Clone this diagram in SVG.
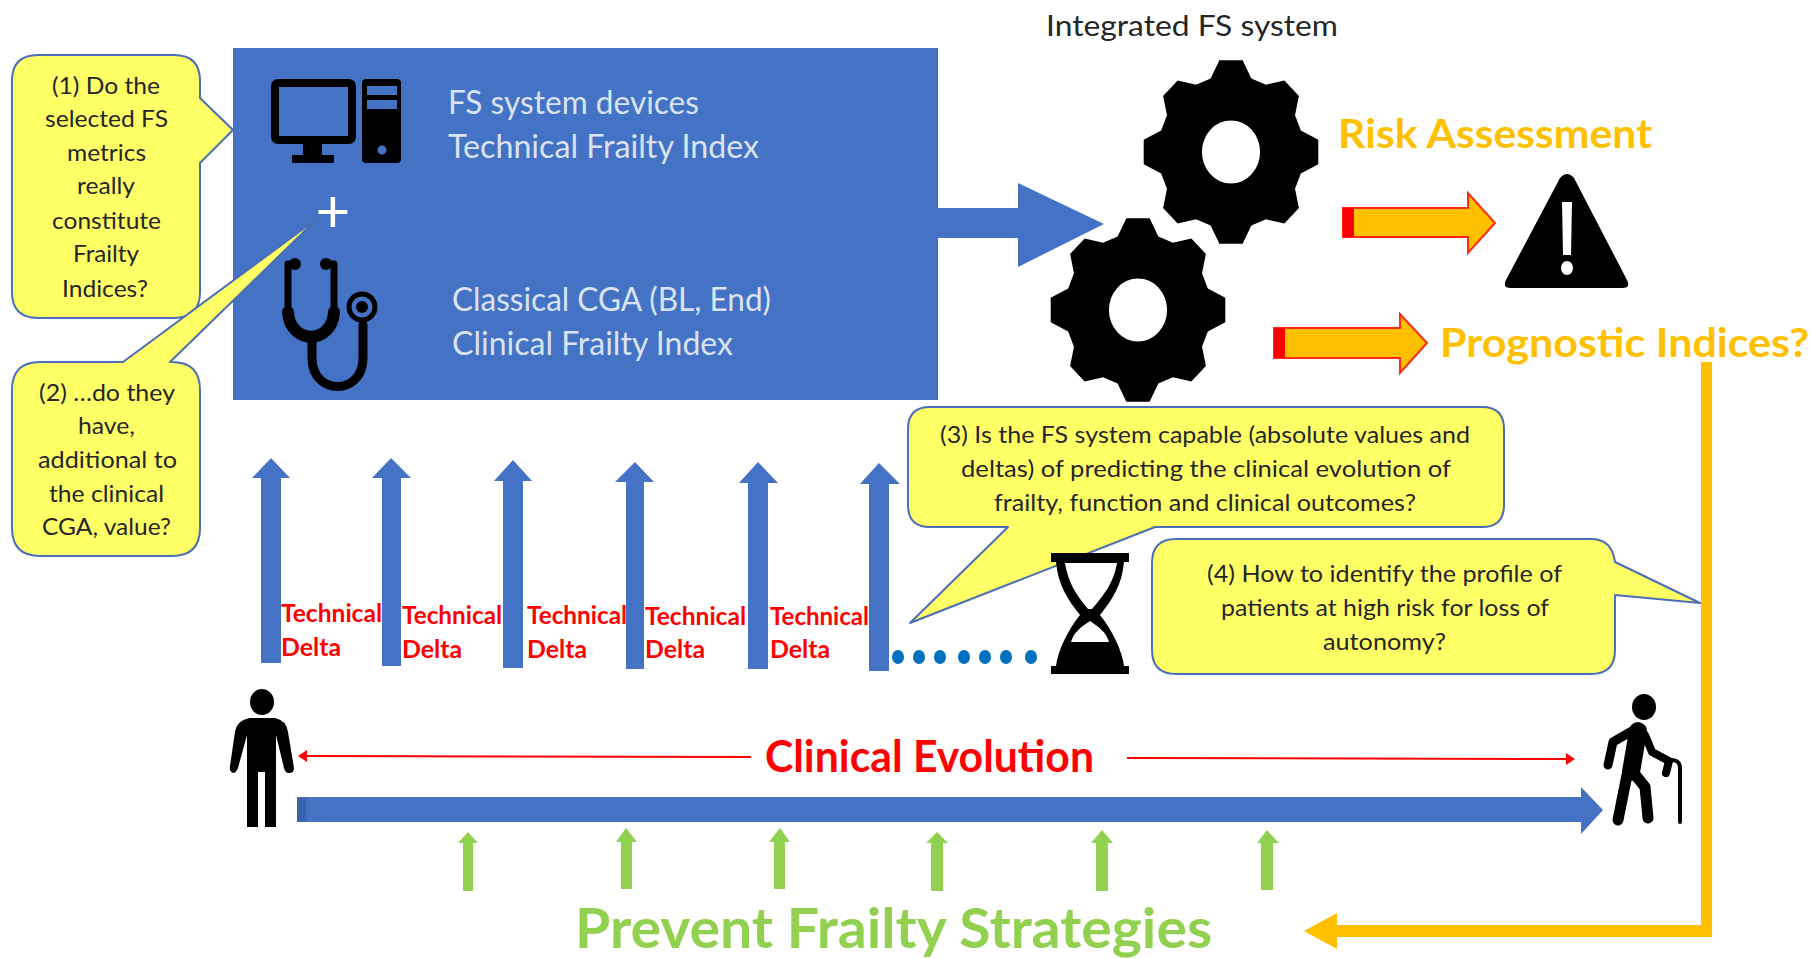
<svg xmlns="http://www.w3.org/2000/svg" xmlns:xlink="http://www.w3.org/1999/xlink" width="1812" height="959" viewBox="0 0 1812 959">
<style>
text{font-family:Lato,"Liberation Sans",sans-serif}
.q{font-size:24px;fill:#262626}
.b{font-size:32px;fill:#dae3f3}
.d{font-size:25px;fill:#ff0000;font-weight:700}
.call{fill:#ffff66;stroke:#4a6fb5;stroke-width:2;stroke-linejoin:round}
.blue{fill:#4472c4}
.grn{fill:#92d050}
.org{fill:#ffc000;stroke:#ff2a10;stroke-width:2}
.red{fill:none;stroke:#ff0000;stroke-width:2}
.k{fill:none;stroke:#000;stroke-linecap:round;stroke-linejoin:round}
</style>
<defs>
<path id="gear" fill-rule="evenodd" d="M-12-90H12L21-72 36-66 55-70 70-55 66-36 72-21 90-12V12L72 21 66 36 70 55 55 70 36 66 21 72 12 90H-12L-21 72-36 66-55 70-70 55-66 36-72 21-90 12V-12L-72-21-66-36-70-55-55-70-36-66-21-72ZM-30 0A30 31 0 0 0 30 0A30 31 0 0 0-30 0Z"/>
</defs>
<rect width="1812" height="959" fill="#fff"/>

<g id="fs-box">
<rect x="233" y="48" width="705" height="352" class="blue"/>
<text class="b" x="448" y="114" textLength="251" lengthAdjust="spacingAndGlyphs">FS system devices</text>
<text class="b" x="448" y="158" textLength="311" lengthAdjust="spacingAndGlyphs">Technical Frailty Index</text>
<text class="b" x="452" y="311" textLength="319" lengthAdjust="spacingAndGlyphs">Classical CGA (BL, End)</text>
<text class="b" x="452" y="355" textLength="281" lengthAdjust="spacingAndGlyphs">Clinical Frailty Index</text>
</g>

<g id="computer-icon">
<rect x="275" y="83" width="77" height="57" rx="3" fill="none" stroke="#000" stroke-width="8"/>
<rect x="303" y="142" width="19" height="15"/>
<rect x="292" y="155" width="42" height="8" rx="1"/>
<path fill-rule="evenodd" d="M366 79H397Q401 79 401 83V159Q401 163 397 163H366Q362 163 362 159V83Q362 79 366 79ZM367 86V95H397V86ZM367 100V109H397V100ZM382 145.500A4.500 4.500 0 1 0 382 154.500A4.500 4.500 0 1 0 382 145.500Z"/>
</g>

<g id="stethoscope-icon">
<path class="k" stroke-width="7" d="M295 264H288V312M326 264H334V312"/>
<circle cx="295" cy="264" r="6"/><circle cx="326" cy="264" r="6"/>
<path class="k" stroke-width="12" d="M288 312C290 345 332 345 334 312"/>
<path class="k" stroke-width="9" d="M312 340V358C312 396 363 396 363 358V325"/>
<circle cx="362" cy="307" r="13" fill="none" stroke="#000" stroke-width="5"/>
<circle cx="362" cy="307" r="6"/>
</g>

<g id="callout-1">
<path class="call" d="M38 55H174Q200 55 200 81V98L233 130 200 163V292Q200 318 174 318H38Q12 318 12 292V81Q12 55 38 55Z"/>
<text class="q" x="52" y="94" textLength="108" lengthAdjust="spacingAndGlyphs">(1) Do the</text>
<text class="q" x="45" y="127" textLength="123" lengthAdjust="spacingAndGlyphs">selected FS</text>
<text class="q" x="67" y="161" textLength="79" lengthAdjust="spacingAndGlyphs">metrics</text>
<text class="q" x="77" y="194" textLength="58" lengthAdjust="spacingAndGlyphs">really</text>
<text class="q" x="52" y="229" textLength="109" lengthAdjust="spacingAndGlyphs">constitute</text>
<text class="q" x="73" y="262" textLength="66" lengthAdjust="spacingAndGlyphs">Frailty</text>
<text class="q" x="62" y="297" textLength="86" lengthAdjust="spacingAndGlyphs">Indices?</text>
</g>

<g id="callout-2">
<path class="call" d="M40 362H123L318 218 170 362H172Q200 362 200 390V528Q200 556 172 556H40Q12 556 12 528V390Q12 362 40 362Z"/>
<text class="q" x="39" y="401" textLength="136" lengthAdjust="spacingAndGlyphs">(2) …do they</text>
<text class="q" x="78" y="434" textLength="57" lengthAdjust="spacingAndGlyphs">have,</text>
<text class="q" x="38" y="468" textLength="139" lengthAdjust="spacingAndGlyphs">additional to</text>
<text class="q" x="49" y="502" textLength="115" lengthAdjust="spacingAndGlyphs">the clinical</text>
<text class="q" x="42" y="535" textLength="129" lengthAdjust="spacingAndGlyphs">CGA, value?</text>
</g>

<g id="plus"><text x="333" y="232" text-anchor="middle" font-size="60" fill="#fff">+</text></g>

<g id="integrated-fs-system">
<text x="1046" y="36" font-size="28" fill="#262626" textLength="292" lengthAdjust="spacingAndGlyphs">Integrated FS system</text>
<use xlink:href="#gear" href="#gear" transform="translate(1231 152) scale(.97 1.02)"/>
<use xlink:href="#gear" href="#gear" transform="translate(1138 310) scale(.97 1.02)"/>
</g>

<g id="risk-assessment"><text x="1338" y="148" font-size="40" font-weight="700" fill="#ffc000" textLength="314" lengthAdjust="spacingAndGlyphs">Risk Assessment</text></g>
<g id="prognostic-indices"><text x="1440" y="357" font-size="40" font-weight="700" fill="#ffc000" textLength="369" lengthAdjust="spacingAndGlyphs">Prognostic Indices?</text></g>

<g id="warning-icon">
<path fill-rule="evenodd" d="M1560 178Q1567 170 1574 178L1627 280Q1631 288 1622 288H1511Q1502 288 1506 280ZM1562 202L1563 255H1571L1572 202ZM1567 261A6 7 0 1 0 1567 275A6 7 0 1 0 1567 261Z"/>
</g>

<g id="callout-3">
<path class="call" d="M930 407H1482Q1504 407 1504 429V505Q1504 527 1482 527H1155L910 623 1008 527H930Q908 527 908 505V429Q908 407 930 407Z"/>
<text class="q" x="940" y="443" textLength="530" lengthAdjust="spacingAndGlyphs">(3) Is the FS system capable (absolute values and</text>
<text class="q" x="961" y="477" textLength="490" lengthAdjust="spacingAndGlyphs">deltas) of predicting the clinical evolution of</text>
<text class="q" x="994" y="511" textLength="422" lengthAdjust="spacingAndGlyphs">frailty, function and clinical outcomes?</text>
</g>

<g id="hourglass-icon">
<path d="M1051 553H1129V562H1124C1122 585 1112 600 1100 615C1112 630 1122 650 1124 666H1129V674H1051V666H1056C1058 650 1068 630 1080 615C1068 600 1058 585 1056 562H1051Z"/>
<path fill="#fff" d="M1065 563H1117C1114 582 1104 595 1092 609H1088C1076 595 1068 582 1065 563Z"/>
<path fill="#fff" d="M1090 621C1080 628 1074 632 1071 642H1109C1106 632 1100 628 1090 621Z"/>
</g>

<g id="callout-4">
<path class="call" d="M1176 539H1591Q1612 539 1615 562L1700 603 1615 595V650Q1615 674 1591 674H1176Q1152 674 1152 650V563Q1152 539 1176 539Z"/>
<text class="q" x="1207" y="582" textLength="355" lengthAdjust="spacingAndGlyphs">(4) How to identify the profile of</text>
<text class="q" x="1221" y="616" textLength="328" lengthAdjust="spacingAndGlyphs">patients at high risk for loss of</text>
<text class="q" x="1323" y="650" textLength="123" lengthAdjust="spacingAndGlyphs">autonomy?</text>
</g>

<g id="delta-labels">
<text class="d" x="281" y="622" textLength="101" lengthAdjust="spacingAndGlyphs">Technical</text><text class="d" x="281" y="656" textLength="60" lengthAdjust="spacingAndGlyphs">Delta</text>
<text class="d" x="402" y="624" textLength="100" lengthAdjust="spacingAndGlyphs">Technical</text><text class="d" x="402" y="658" textLength="60" lengthAdjust="spacingAndGlyphs">Delta</text>
<text class="d" x="527" y="624" textLength="100" lengthAdjust="spacingAndGlyphs">Technical</text><text class="d" x="527" y="658" textLength="60" lengthAdjust="spacingAndGlyphs">Delta</text>
<text class="d" x="645" y="625" textLength="101" lengthAdjust="spacingAndGlyphs">Technical</text><text class="d" x="645" y="658" textLength="60" lengthAdjust="spacingAndGlyphs">Delta</text>
<text class="d" x="770" y="625" textLength="99" lengthAdjust="spacingAndGlyphs">Technical</text><text class="d" x="770" y="658" textLength="60" lengthAdjust="spacingAndGlyphs">Delta</text>
</g>

<g id="dots" fill="#0070c0">
<ellipse cx="898" cy="657" rx="6" ry="7"/><ellipse cx="919" cy="657" rx="6" ry="7"/><ellipse cx="940" cy="657" rx="6" ry="7"/><ellipse cx="964" cy="657" rx="6" ry="7"/><ellipse cx="985" cy="657" rx="6" ry="7"/><ellipse cx="1006" cy="657" rx="6" ry="7"/><ellipse cx="1031" cy="657" rx="6" ry="7"/>
</g>

<g id="person-young">
<ellipse cx="262" cy="702" rx="12" ry="13"/>
<path d="M250 718H275Q286 720 288 732L294 768Q294 773 289 773Q285 773 284 768L276 735V827H265V772H258V827H247V735L238 768Q236 773 233 773Q229 771 230 766L235 732Q237 720 250 718Z"/>
</g>

<g id="person-old">
<ellipse cx="1644" cy="707" rx="12" ry="13"/>
<path class="k" stroke-width="9" d="M1632 731L1613 742 1608 765"/>
<path class="k" stroke-width="18" d="M1638 731L1631 772"/>
<path class="k" stroke-width="8" d="M1645 735L1652 752 1669 761 1666 773"/>
<path class="k" stroke-width="11" d="M1627 775L1618 820M1633 772L1645 787 1648 818"/>
<path class="k" stroke-width="4" d="M1669 760Q1680 759 1680 768V822"/>
</g>

<g id="clinical-evolution"><text x="765" y="772" font-size="44" font-weight="700" fill="#ff0000" textLength="329" lengthAdjust="spacingAndGlyphs">Clinical Evolution</text></g>
<g id="prevent-frailty"><text x="575" y="948" font-size="56" font-weight="700" fill="#92d050" textLength="637" lengthAdjust="spacingAndGlyphs">Prevent Frailty Strategies</text></g>

<g id="connectors">
<path class="blue" d="M938 208H1018V183L1104 224 1018 267V238H938Z"/>
<path class="org" d="M1343 208H1468V193L1495 223 1468 253V237H1343Z"/>
<rect x="1343" y="208" width="11" height="29" fill="#ff0000"/>
<path class="org" d="M1274 328H1400V314L1427 343 1400 373V358H1274Z"/>
<rect x="1274" y="328" width="11" height="30" fill="#ff0000"/>
<path class="blue" d="M271 458L290 478H281V663H261V478H252Z"/>
<path class="blue" d="M391 458L411 478H401V666H382V478H372Z"/>
<path class="blue" d="M513 460L532 481H523V668H503V481H494Z"/>
<path class="blue" d="M635 462L654 482H644V669H626V482H615Z"/>
<path class="blue" d="M758 462L778 483H768V669H748V483H739Z"/>
<path class="blue" d="M879 463L900 484H889V671H869V484H860Z"/>
<path class="blue" d="M297 797H1581V787L1603 810 1581 834V822H297Z"/>
<rect x="297" y="798" width="9" height="24" fill="#3b64ad"/>
<path class="red" d="M751 757L305 756"/><path fill="#ff0000" d="M298 756L307 750V762Z"/>
<path class="red" d="M1127 758L1568 759"/><path fill="#ff0000" d="M1575 759L1566 753V765Z"/>
<path class="grn" d="M468 832L478 843H473V891H463V843H458Z"/>
<path class="grn" d="M626 828L637 842H632V889H621V842H616Z"/>
<path class="grn" d="M780 828L790 842H785V889H774V842H769Z"/>
<path class="grn" d="M937 832L948 843H943V891H931V843H926Z"/>
<path class="grn" d="M1102 830L1113 843H1108V891H1096V843H1091Z"/>
<path class="grn" d="M1267 830L1279 843H1273V890H1261V843H1257Z"/>
<path fill="#ffc000" d="M1701 362H1712V937H1337V949L1304 931 1337 913V925H1701Z"/>
</g>
</svg>
